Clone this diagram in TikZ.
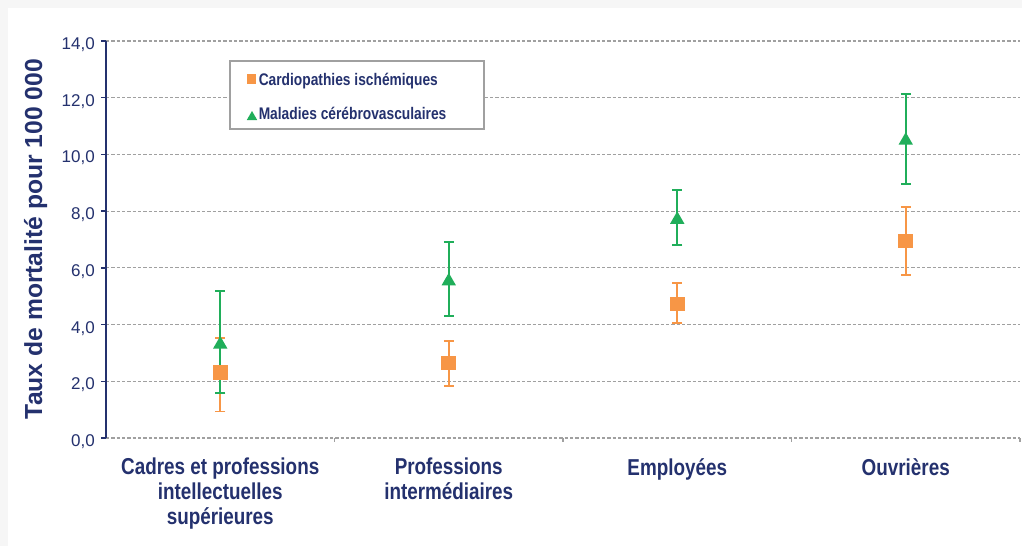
\documentclass[tikz,border=0pt]{standalone}
\usepackage{fontspec}
\setmainfont{Liberation Sans}
\newfontfamily\narrowsf{Liberation Sans}[FakeStretch=0.82]
\usepackage{tikz}
\usetikzlibrary{arrows.meta,shapes.geometric}

\definecolor{navy}{RGB}{36,49,110}
\definecolor{cardorange}{RGB}{247,150,70}
\definecolor{cerebgreen}{RGB}{32,174,90}
\definecolor{gridgray}{RGB}{160,160,160}

\tikzset{
  gridline/.style={gridgray, line width=0.9pt, dash pattern=on 2.6pt off 1.4pt},
  valaxis/.style={navy, line width=1.1pt},
  xtick/.style={gridgray, line width=0.9pt},
  errbar/.style={line width=1.3pt, {Bar[width=7.5pt]}-{Bar[width=7.5pt]}},
  sqmark/.style={rectangle, fill=cardorange, minimum size=11pt, inner sep=0pt},
  trimark/.style={regular polygon, regular polygon sides=3, fill=cerebgreen,
    minimum size=12.5pt, inner sep=0pt, yshift=-1.5pt},
  ticklabel/.style={navy, font=\fontsize{12.75}{14}\selectfont, anchor=base east,
    inner sep=0pt, yshift=-6.4pt},
  catlabel/.style={navy, font=\narrowsf\bfseries\fontsize{17.25}{18.75}\selectfont,
    align=center, anchor=north, inner sep=0pt},
  legtext/.style={navy, font=\narrowsf\bfseries\fontsize{12.6}{14}\selectfont,
    anchor=base west, inner sep=0pt},
  legendbox/.style={draw=gridgray, line width=1.1pt, fill=white,
    minimum width=190.5pt, minimum height=51pt},
  axislabel/.style={navy, font=\bfseries\fontsize{18.5}{20}\selectfont, inner sep=0pt}
}

\begin{document}
\begin{tikzpicture}[x=0.75pt,y=-0.75pt]
  \useasboundingbox (0,0) rectangle (1022,546);
  \fill[gray!7] (0,0) rectangle (1022,546);
  \fill[white] (8,8) rectangle (1022,546);

  \begin{scope}[shift={(106,438)},x=171.375pt,y=21.27pt]
    % grid and axes
    \foreach \v in {0,2,...,14}
      \draw[gridline] (0,\v) -- (4,\v);
    \foreach \k in {1,...,4}
      \draw[xtick] (\k,0) -- ++(0,-3pt);
    \draw[valaxis] (0,0) -- (0,14);
    \foreach \v in {0,2,...,14} {
      \draw[valaxis] (0,\v) -- ++(-3.75pt,0);
      \node[ticklabel] (tick\v) at (0,\v) [xshift=-8.25pt] {\v,0};
    }

    % error bars, then markers
    \foreach \k/\cval/\clow/\chigh/\mval/\mlow/\mhigh in
      {1/2.3/0.9/3.55/3.37/1.55/5.22,
       2/2.64/1.8/3.46/5.6/4.27/6.95,
       3/4.72/4.02/5.5/7.77/6.77/8.78,
       4/6.95/5.71/8.18/10.56/8.92/12.17} {
      \coordinate (cardlo\k) at (\k-0.5,\clow);
      \coordinate (cardhi\k) at (\k-0.5,\chigh);
      \coordinate (cereblo\k) at (\k-0.5,\mlow);
      \coordinate (cerebhi\k) at (\k-0.5,\mhigh);
      \draw[errbar, cardorange] (cardlo\k) -- (cardhi\k);
      \draw[errbar, cerebgreen] (cereblo\k) -- (cerebhi\k);
      \node[trimark] (cereb\k) at (\k-0.5,\mval) {};
      \node[sqmark] (card\k) at (\k-0.5,\cval) {};
    }

    % categories
    \node[catlabel] (cat1) at (0.5,0) [yshift=-15pt] {Cadres et professions\\intellectuelles\\supérieures};
    \node[catlabel] (cat2) at (1.5,0) [yshift=-15pt] {Professions\\intermédiaires};
    \node[catlabel] (cat3) at (2.5,0) [yshift=-15pt] {Employées};
    \node[catlabel] (cat4) at (3.5,0) [yshift=-15pt] {Ouvrières};
  \end{scope}

  % legend
  \node[legendbox] (legend) at (357,95) {};
  \node[sqmark, minimum size=7pt] (legcard) at (251.5,79) {};
  \node[legtext] (legcardtext) at (258.5,85) {Cardiopathies ischémiques};
  \node[trimark, minimum size=9pt, yshift=0pt] (legcereb) at (252,115) {};
  \node[legtext] (legcerebtext) at (258.5,119) {Maladies cérébrovasculaires};

  \node[axislabel, rotate=90, anchor=base] (ylabel) at (42,239) {Taux de mortalité pour 100 000};
\end{tikzpicture}
\end{document}
